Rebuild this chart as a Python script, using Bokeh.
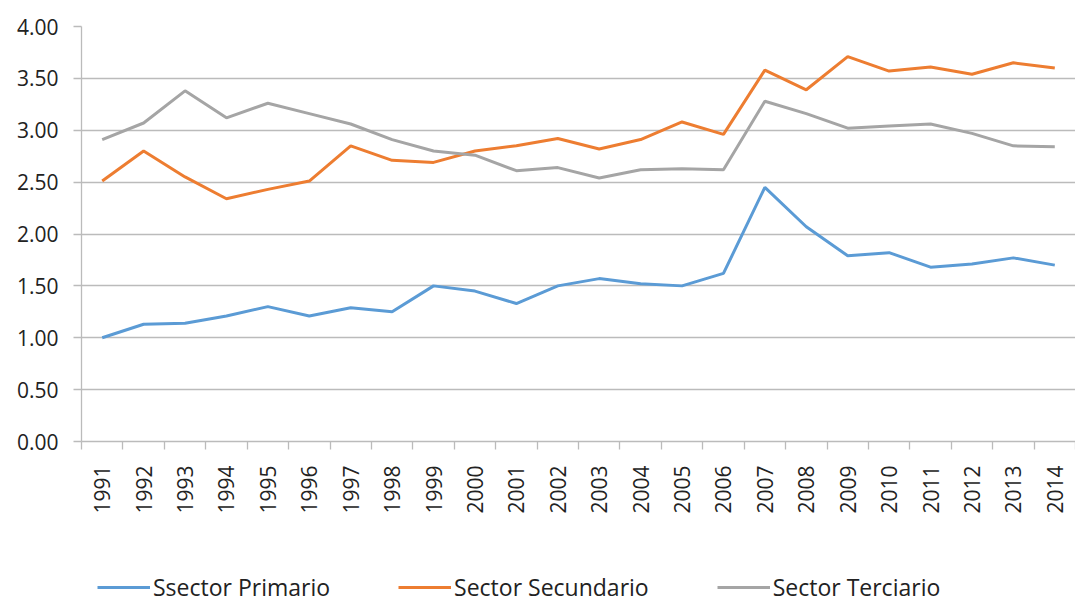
import math
from bokeh.plotting import figure
from bokeh.layouts import column
from bokeh.models import (ColumnDataSource, FixedTicker, PrintfTickFormatter,
                          Legend, LegendItem)
from bokeh.embed import file_html
from bokeh.resources import INLINE

years = ["1991", "1992", "1993", "1994", "1995", "1996", "1997", "1998",
         "1999", "2000", "2001", "2002", "2003", "2004", "2005", "2006",
         "2007", "2008", "2009", "2010", "2011", "2012", "2013", "2014"]
primario = [1.00, 1.13, 1.14, 1.21, 1.30, 1.21, 1.29, 1.25, 1.50, 1.45, 1.33, 1.50,
            1.57, 1.52, 1.50, 1.62, 2.45, 2.07, 1.79, 1.82, 1.68, 1.71, 1.77, 1.70]
secundario = [2.51, 2.80, 2.55, 2.34, 2.43, 2.51, 2.85, 2.71, 2.69, 2.80, 2.85, 2.92,
              2.82, 2.91, 3.08, 2.96, 3.58, 3.39, 3.71, 3.57, 3.61, 3.54, 3.65, 3.60]
terciario = [2.91, 3.07, 3.38, 3.12, 3.26, 3.16, 3.06, 2.91, 2.80, 2.76, 2.61, 2.64,
             2.54, 2.62, 2.63, 2.62, 3.28, 3.16, 3.02, 3.04, 3.06, 2.97, 2.85, 2.84]
series_names = ["Ssector Primario", "Sector Secundario", "Sector Terciario"]
colors = ["#5B9BD5", "#ED7D31", "#A5A5A5"]
y_ticks = [0.0, 0.5, 1.0, 1.5, 2.0, 2.5, 3.0, 3.5, 4.0]

FONT = "Open Sans"
TXT = "#222222"
GRID = "#BBBBBB"
idx = list(range(len(years)))
src = ColumnDataSource(dict(x=idx, p=primario, s=secundario, t=terciario))

p = figure(width=1075, height=555, x_range=(-0.5, len(years) - 0.5), y_range=(0, 4),
           output_backend="svg", toolbar_location=None,
           min_border_left=81, min_border_top=26, min_border_right=0, min_border_bottom=114)
p.outline_line_color = None
p.xgrid.grid_line_color = None
p.ygrid.grid_line_color = GRID
p.ygrid.grid_line_width = 1.3
p.ygrid.ticker = FixedTicker(ticks=y_ticks)

# y axis
p.yaxis.ticker = FixedTicker(ticks=y_ticks)
p.yaxis.formatter = PrintfTickFormatter(format="%.2f")
p.yaxis.axis_line_color = GRID
p.yaxis.axis_line_width = 1.3
p.yaxis.major_tick_line_color = GRID
p.yaxis.major_tick_line_width = 1.3
p.yaxis.major_tick_out = 8
p.yaxis.major_tick_in = 0
p.yaxis.minor_tick_line_color = None
p.yaxis.major_label_standoff = 15
p.yaxis.major_label_text_font = FONT
p.yaxis.major_label_text_font_size = "21px"
p.yaxis.major_label_text_color = TXT

# x axis
p.xaxis.ticker = FixedTicker(ticks=idx, minor_ticks=[i - 0.5 for i in range(len(years) + 1)])
p.xaxis.major_label_overrides = {i: y for i, y in zip(idx, years)}
p.xaxis.major_label_orientation = math.pi / 2
p.xaxis.major_tick_line_color = None
p.xaxis.minor_tick_line_color = GRID
p.xaxis.minor_tick_line_width = 1.3
p.xaxis.minor_tick_out = 8
p.xaxis.minor_tick_in = 0
p.xaxis.axis_line_color = GRID
p.xaxis.axis_line_width = 1.3
p.xaxis.major_label_standoff = 16
p.xaxis.major_label_text_font = FONT
p.xaxis.major_label_text_font_size = "21px"
p.xaxis.major_label_text_color = TXT

p.line("x", "p", source=src, line_color=colors[0], line_width=3)
p.line("x", "s", source=src, line_color=colors[1], line_width=3)
p.line("x", "t", source=src, line_color=colors[2], line_width=3)

# legend strip below the chart (its lines sit outside the visible range)
lg = figure(width=1075, height=48, x_range=(0, 1), y_range=(0, 1),
            output_backend="svg", toolbar_location=None,
            x_axis_location=None, y_axis_location=None,
            min_border_left=0, min_border_right=0, min_border_top=0, min_border_bottom=0)
lg.outline_line_color = None
lg.xgrid.grid_line_color = None
lg.ygrid.grid_line_color = None
items = []
for name, col in zip(series_names, colors):
    r = lg.line(x=[-10, -9], y=[-10, -10], line_color=col, line_width=3)
    items.append(LegendItem(label=name, renderers=[r]))
legend = Legend(items=items, orientation="horizontal", location=(16, 0),
                border_line_color=None, background_fill_alpha=0,
                glyph_width=53, glyph_height=24, label_standoff=3, spacing=68,
                padding=0, margin=0,
                label_text_font=FONT, label_text_font_size="23px",
                label_text_color=TXT)
lg.add_layout(legend, "center")

layout = column(p, lg, spacing=0)
open("out.html", "w").write(file_html(layout, INLINE))
